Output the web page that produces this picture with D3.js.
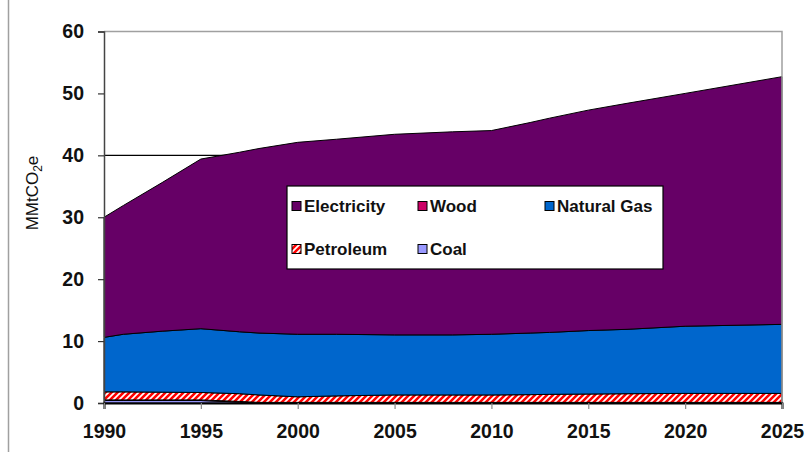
<!DOCTYPE html>
<html>
<head>
<meta charset="utf-8">
<title>MMtCO2e by fuel</title>
<script src="https://cdn.jsdelivr.net/npm/d3@7"></script>
<style>
  html, body { margin: 0; padding: 0; background: #fff; overflow: hidden; }
  svg { font-family: "Liberation Sans", Arial, sans-serif; }
</style>
</head>
<body>
<div id="chart"></div>
<script>
  // values (MMtCO2e, stacked)
  const years     = [1990, 1991, 1993, 1995, 1997, 1998, 2000, 2002, 2005, 2008, 2010, 2012, 2013, 2015, 2017, 2020, 2025]
  const coal      = [0.4, 0.4, 0.4, 0.4, 0.15, 0, 0, 0, 0, 0, 0, 0, 0, 0, 0, 0, 0]
  const wood      = [0.1, 0.1, 0.1, 0.1, 0.1, 0.1, 0.1, 0.1, 0.1, 0.1, 0.1, 0.1, 0.1, 0.1, 0.1, 0.1, 0.1]
  const petroleum = [1.3, 1.3, 1.25, 1.2, 1.25, 1.2, 0.9, 1.05, 1.2, 1.2, 1.2, 1.25, 1.3, 1.35, 1.4, 1.45, 1.45]
  const naturalGas = [8.8, 9.3, 9.85, 10.3, 10.0, 10.0, 10.1, 9.95, 9.7, 9.7, 9.8, 9.95, 10.0, 10.25, 10.4, 10.85, 11.15]
  const electricity = [19.4, 20.8, 24.0, 27.4, 29.0, 29.8, 31.0, 31.5, 32.4, 32.8, 32.9, 34.0, 34.6, 35.6, 36.5, 37.6, 40.0]

  const xTicks = [1990, 1995, 2000, 2005, 2010, 2015, 2020, 2025]
  const yTicks = [0, 10, 20, 30, 40, 50, 60]
  const gridAt = [40]

  // stacking order, bottom first
  const keys = ['Coal', 'Wood', 'Petroleum', 'Natural Gas', 'Electricity']
  const colors = {
    'Coal': '#9999ff',
    'Wood': '#cc0066',
    'Petroleum': 'url(#hatch)',
    'Natural Gas': '#0066cc',
    'Electricity': '#660066'
  }
  // legend as it reads, row by row
  const legendRows = [['Electricity', 'Wood', 'Natural Gas'], ['Petroleum', 'Coal']]

  const rows = years.map((y, i) => ({
    year: y,
    'Coal': coal[i],
    'Wood': wood[i],
    'Petroleum': petroleum[i],
    'Natural Gas': naturalGas[i],
    'Electricity': electricity[i]
  }))

  const W = 810, H = 458
  const svg = d3.select('#chart').append('svg')
    .attr('width', W).attr('height', H)

  const defs = svg.append('defs')
  const pat = defs.append('pattern')
    .attr('id', 'hatch')
    .attr('patternUnits', 'userSpaceOnUse')
    .attr('width', 6).attr('height', 6)
  pat.append('rect').attr('width', 6).attr('height', 6).attr('fill', '#fff')
  pat.append('path')
    .attr('d', 'M-1,7 L7,-1 M-4,4 L4,-4 M2,10 L10,2')
    .attr('stroke', '#ff0000').attr('stroke-width', 2.6)

  const x = d3.scaleLinear().domain([1990, 2025]).range([104, 782])
  const y = d3.scaleLinear().domain([0, 60]).range([403, 31.5])

  // stray frame line on the far left
  svg.append('line')
    .attr('x1', 8.5).attr('x2', 8.5).attr('y1', 0).attr('y2', 452)
    .attr('stroke', '#a0a0a0').attr('stroke-width', 1.5)

  // gridline (sits behind the areas)
  svg.append('g').selectAll('line').data(gridAt).enter().append('line')
    .attr('x1', x(1990)).attr('x2', x(2025))
    .attr('y1', d => y(d)).attr('y2', d => y(d))
    .attr('stroke', '#000').attr('stroke-width', 1.2)

  const stack = d3.stack().keys(keys)
  const series = stack(rows)

  const area = d3.area()
    .x(d => x(d.data.year))
    .y0(d => y(d[0]))
    .y1(d => y(d[1]))

  svg.append('g').selectAll('path').data(series).enter().append('path')
    .attr('d', area)
    .attr('fill', d => colors[d.key])
    .attr('stroke', '#000')
    .attr('stroke-width', 1)
    .attr('stroke-linejoin', 'round')

  // plot frame: grey top and right
  svg.append('path')
    .attr('d', `M${x(1990)},${y(60)} H${x(2025)} V${y(0)}`)
    .attr('fill', 'none').attr('stroke', '#a0a0a0').attr('stroke-width', 1.5)

  // axes
  const yAxis = d3.axisLeft(y).tickValues(yTicks).tickSize(6).tickPadding(14)
  const gy = svg.append('g').attr('transform', `translate(${x(1990)},0)`).call(yAxis)
  gy.select('.domain').attr('stroke', '#444').attr('stroke-width', 1.5)
  gy.selectAll('.tick line').attr('stroke', '#333').attr('stroke-width', 1.2)
  gy.selectAll('text')
    .attr('font-size', 19.5).attr('font-weight', 'bold').attr('fill', '#111')
    .attr('font-family', '"Liberation Sans", Arial, sans-serif')

  const xAxis = d3.axisBottom(x).tickValues(xTicks).tickFormat(d3.format('d')).tickSize(6).tickPadding(15)
  const gx = svg.append('g').attr('transform', `translate(0,${y(0)})`).call(xAxis)
  gx.select('.domain').attr('stroke', '#000').attr('stroke-width', 2)
  gx.selectAll('.tick line').attr('stroke', '#888').attr('stroke-width', 1.2)
  gx.selectAll('text')
    .attr('font-size', 19.5).attr('font-weight', 'bold').attr('fill', '#111')
    .attr('font-family', '"Liberation Sans", Arial, sans-serif')

  // y title
  const yt = svg.append('text')
    .attr('transform', 'translate(38,193) rotate(-90)')
    .attr('text-anchor', 'middle')
    .attr('font-size', 17).attr('fill', '#111')
  yt.append('tspan').text('MMtCO')
  yt.append('tspan').attr('font-size', 12).attr('dy', 4).text('2')
  yt.append('tspan').attr('dy', -4).text('e')

  // legend
  const lg = svg.append('g')
  lg.append('rect')
    .attr('x', 287).attr('y', 186).attr('width', 376).attr('height', 83)
    .attr('fill', '#fff').attr('stroke', '#000').attr('stroke-width', 1.2)
  const colX = [292, 418, 545]
  const rowY = [206, 249]
  legendRows.forEach((row, r) => {
    row.forEach((name, c) => {
      const g = lg.append('g').attr('transform', `translate(${colX[c]},${rowY[r]})`)
      g.append('rect')
        .attr('x', 0).attr('y', -4.5).attr('width', 9).attr('height', 9)
        .attr('fill', colors[name]).attr('stroke', '#000').attr('stroke-width', 1)
      g.append('text')
        .attr('x', 12).attr('y', 0).attr('dy', '0.36em')
        .attr('font-size', 17).attr('font-weight', 'bold').attr('fill', '#111')
        .text(name)
    })
  })
</script>
</body>
</html>
